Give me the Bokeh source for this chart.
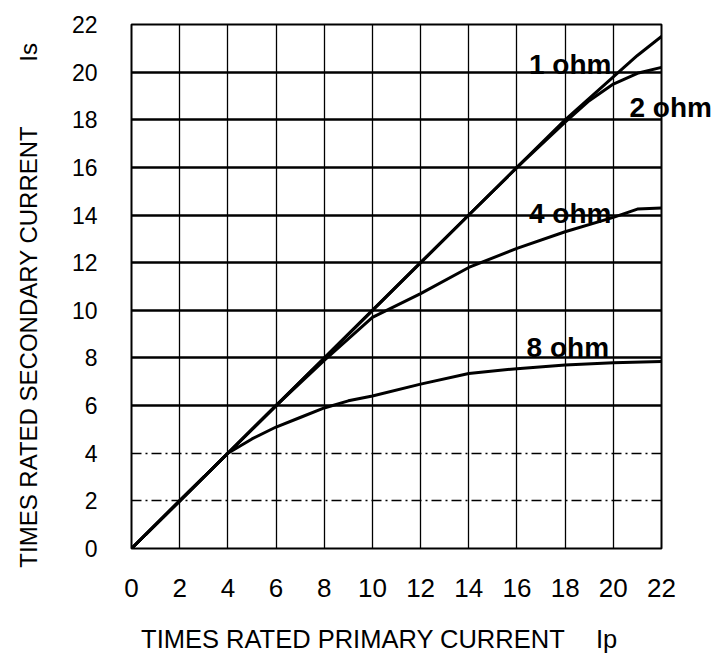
import math
from bokeh.plotting import figure
from bokeh.models import (Range1d, FixedTicker, Grid, Label, LinearAxis,
                          CustomJSTickFormatter)
from bokeh.embed import file_html
from bokeh.resources import INLINE

# ---- data ----
ticks = [0, 2, 4, 6, 8, 10, 12, 14, 16, 18, 20, 22]

ohm1_x = [0, 2, 4, 6, 8, 10, 12, 14, 16, 18, 20, 21, 22]
ohm1_y = [0, 2.0, 4.0, 6.0, 8.0, 10.0, 12.0, 14.0, 16.0, 18.0, 19.8, 20.7, 21.5]

ohm2_x = [0, 2, 4, 6, 8, 10, 12, 14, 16, 18, 19, 20, 21, 22]
ohm2_y = [0, 2.0, 4.0, 6.0, 8.0, 10.0, 12.0, 14.0, 16.0, 17.9, 18.8, 19.5, 19.95, 20.2]

ohm4_x = [0, 2, 4, 6, 8, 9, 10, 12, 14, 16, 18, 20, 21, 22]
ohm4_y = [0, 2.0, 4.0, 6.0, 7.9, 8.8, 9.7, 10.7, 11.8, 12.6, 13.3, 13.9, 14.25, 14.3]

ohm8_x = [0, 2, 4, 5, 6, 7, 8, 9, 10, 12, 14, 16, 18, 20, 22]
ohm8_y = [0, 2.0, 4.0, 4.6, 5.1, 5.5, 5.9, 6.2, 6.4, 6.9, 7.35, 7.55, 7.7, 7.8, 7.85]

curve_labels = ["1 ohm", "2 ohm", "4 ohm", "8 ohm"]
x_title = "TIMES RATED PRIMARY CURRENT"
x_unit = "Ip"
y_title = "TIMES RATED SECONDARY CURRENT"
y_unit = "Is"

SANS = "'Liberation Sans', Arial, sans-serif"

p = figure(width=714, height=655, output_backend="svg", toolbar_location=None,
           x_range=Range1d(0, 22), y_range=Range1d(0, 22),
           min_border_left=131, min_border_right=52, min_border_top=24,
           min_border_bottom=106)
p.background_fill_color = "white"
p.border_fill_color = "white"
p.outline_line_color = "black"
p.outline_line_width = 2

for ax in (p.xaxis[0], p.yaxis[0]):
    ax.ticker = FixedTicker(ticks=ticks)
    ax.axis_line_color = None
    ax.major_tick_line_color = None
    ax.minor_tick_line_color = None
    ax.major_label_text_font = SANS
    ax.major_label_text_color = "black"

p.xaxis.major_label_text_font_size = "26px"
p.xaxis.major_label_standoff = 24
p.yaxis.major_label_text_font_size = "23px"
p.yaxis.major_label_standoff = 28

# grids
p.xgrid.ticker = FixedTicker(ticks=ticks[1:-1])
p.xgrid.grid_line_color = "black"
p.xgrid.grid_line_width = 1.3
p.ygrid.ticker = FixedTicker(ticks=[6, 8, 10, 12, 14, 16, 18, 20])
p.ygrid.grid_line_color = "black"
p.ygrid.grid_line_width = 2.5
g2 = Grid(dimension=1, ticker=FixedTicker(ticks=[2, 4]),
          grid_line_color="black", grid_line_width=1.3, grid_line_dash="10 4 2 4")
p.add_layout(g2)

for xs, ys in ((ohm1_x, ohm1_y), (ohm2_x, ohm2_y), (ohm4_x, ohm4_y), (ohm8_x, ohm8_y)):
    p.line(xs, ys, line_color="black", line_width=3, line_join="round", line_cap="round")

# curve labels inside the frame
label_pos = {"1 ohm": (16.5, 20.3), "4 ohm": (16.5, 14.05), "8 ohm": (16.4, 8.45)}
for txt in curve_labels:
    if txt in label_pos:
        lx, ly = label_pos[txt]
        p.add_layout(Label(x=lx, y=ly, text=txt, text_font=SANS, text_font_style="bold",
                           text_font_size="28px", text_align="left",
                           text_baseline="alphabetic", text_color="black"))

# "2 ohm" reaches past the frame: drawn as the single label of a right-hand axis
ax_r = LinearAxis(ticker=FixedTicker(ticks=[18.5]),
                  formatter=CustomJSTickFormatter(args=dict(t=curve_labels[1]), code="return t;"),
                  axis_line_color=None, major_tick_line_color=None, minor_tick_line_color=None,
                  major_label_standoff=-38, major_label_text_font=SANS,
                  major_label_text_font_style="bold", major_label_text_font_size="28px",
                  major_label_text_color="black")
p.add_layout(ax_r, "right")

# axis titles with their unit symbols, as labels of a second axis on each side
ax_b = LinearAxis(ticker=FixedTicker(ticks=[9.2, 19.72]),
                  formatter=CustomJSTickFormatter(args=dict(a=x_title, b=x_unit),
                                                  code="return tick > 15 ? b : a;"),
                  axis_line_color=None, major_tick_line_color=None, minor_tick_line_color=None,
                  major_label_standoff=19, major_label_text_font=SANS,
                  major_label_text_font_size="25.5px", major_label_text_color="black")
p.add_layout(ax_b, "below")

ax_l = LinearAxis(ticker=FixedTicker(ticks=[8.47, 20.83]),
                  formatter=CustomJSTickFormatter(args=dict(a=y_title, b=y_unit),
                                                  code="return tick > 15 ? b : a;"),
                  axis_line_color=None, major_tick_line_color=None, minor_tick_line_color=None,
                  major_label_standoff=20, major_label_orientation="vertical",
                  major_label_text_font=SANS,
                  major_label_text_font_size="24px", major_label_text_color="black")
p.add_layout(ax_l, "left")

open("out.html", "w").write(file_html(p, INLINE))
